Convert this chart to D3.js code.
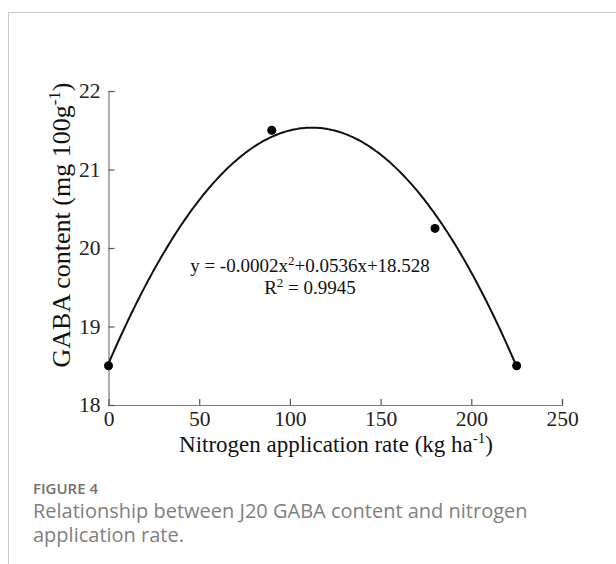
<!DOCTYPE html>
<html>
<head>
<meta charset="utf-8">
<script src="https://cdn.jsdelivr.net/npm/d3@7"></script>
<style>
  html, body { margin: 0; padding: 0; background: #fff; }
  svg { display: block; }
</style>
</head>
<body>
<svg id="chart" width="616" height="564"></svg>
<script>
// ---- data ----
const nitrogenRates = [0, 90, 180, 225];
const gabaContent = [18.5, 21.5, 20.25, 18.5];
const fitCoefficients = [-0.000239, 0.0536, 18.528]; // a, b, c of y = ax^2 + bx + c (as drawn)
const fitRange = [0, 225];
const xTicks = [0, 50, 100, 150, 200, 250];
const yTicks = [18, 19, 20, 21, 22];

const svg = d3.select("#chart");
const serif = "'Liberation Serif', 'Times New Roman', serif";

// frame
svg.append("line").attr("x1", 8.5).attr("y1", 12.5).attr("x2", 616).attr("y2", 12.5).attr("stroke", "#c8c8c8");
svg.append("line").attr("x1", 8.5).attr("y1", 12.5).attr("x2", 8.5).attr("y2", 564).attr("stroke", "#c8c8c8");

const x = d3.scaleLinear().domain([0, 250]).range([108.5, 562]);
const y = d3.scaleLinear().domain([18, 22]).range([405, 91]);

// axes
const xAxis = d3.axisBottom(x).tickValues(xTicks).tickSize(-6).tickPadding(6).tickFormat(d3.format("d"));
const yAxis = d3.axisLeft(y).tickValues(yTicks).tickSize(-6).tickPadding(8).tickFormat(d3.format("d"));

const gx = svg.append("g").attr("transform", `translate(0,${y(18)})`).call(xAxis);
const gy = svg.append("g").attr("transform", `translate(${x(0)},0)`).call(yAxis);
[gx, gy].forEach(g => {
  g.select(".domain").attr("stroke", "#7a7a7a").attr("stroke-width", 1.2);
  g.selectAll(".tick line").attr("stroke", "#555").attr("stroke-width", 1.2);
  g.selectAll(".tick text").attr("fill", "#222").style("font-family", serif).style("font-size", "21.5px");
});

// fitted curve
const [a, b, c] = fitCoefficients;
const curvePts = d3.range(fitRange[0], fitRange[1] + 0.5, 1).map(v => [v, a * v * v + b * v + c]);
svg.append("path")
  .datum(curvePts)
  .attr("fill", "none")
  .attr("stroke", "#111")
  .attr("stroke-width", 2)
  .attr("d", d3.line().x(d => x(d[0])).y(d => y(d[1])).curve(d3.curveMonotoneX));

// points
svg.selectAll("circle.pt")
  .data(nitrogenRates.map((v, i) => [v, gabaContent[i]]))
  .join("circle")
  .attr("class", "pt")
  .attr("cx", d => x(d[0]))
  .attr("cy", d => y(d[1]))
  .attr("r", 4.5)
  .attr("fill", "#000");

// equation
const eq = svg.append("text").attr("x", 310).attr("y", 272).attr("text-anchor", "middle")
  .style("font-family", serif).style("font-size", "19px").attr("fill", "#111");
eq.append("tspan").text("y = -0.0002x");
eq.append("tspan").attr("dy", -7).style("font-size", "13px").text("2");
eq.append("tspan").attr("dy", 7).text("+0.0536x+18.528");

const r2 = svg.append("text").attr("x", 310).attr("y", 294).attr("text-anchor", "middle")
  .style("font-family", serif).style("font-size", "19px").attr("fill", "#111");
r2.append("tspan").text("R");
r2.append("tspan").attr("dy", -7).style("font-size", "13px").text("2");
r2.append("tspan").attr("dy", 7).text(" = 0.9945");

// x title
const xt = svg.append("text").attr("x", 336).attr("y", 452).attr("text-anchor", "middle")
  .style("font-family", serif).style("font-size", "23px").attr("fill", "#111");
xt.append("tspan").text("Nitrogen application rate (kg ha");
xt.append("tspan").attr("dy", -9).style("font-size", "15px").text("-1");
xt.append("tspan").attr("dy", 9).text(")");

// y title
const yt = svg.append("text").attr("transform", "translate(70,225) rotate(-90)").attr("text-anchor", "middle")
  .style("font-family", serif).style("font-size", "26px").attr("fill", "#111");
yt.append("tspan").text("GABA content (mg 100g");
yt.append("tspan").attr("dy", -10).style("font-size", "17px").text("-1");
yt.append("tspan").attr("dy", 10).text(")");

// caption
const sans = "'Open Sans', 'Noto Sans', sans-serif";
svg.append("text").attr("x", 33).attr("y", 494).style("font-family", sans).style("font-size", "15px")
  .style("font-weight", 600).attr("fill", "#707070").text("FIGURE 4");
svg.append("text").attr("x", 33).attr("y", 518).style("font-family", sans).style("font-size", "20px")
  .attr("fill", "#808080").text("Relationship between J20 GABA content and nitrogen");
svg.append("text").attr("x", 33).attr("y", 542).style("font-family", sans).style("font-size", "20px")
  .attr("fill", "#808080").text("application rate.");
</script>
</body>
</html>
